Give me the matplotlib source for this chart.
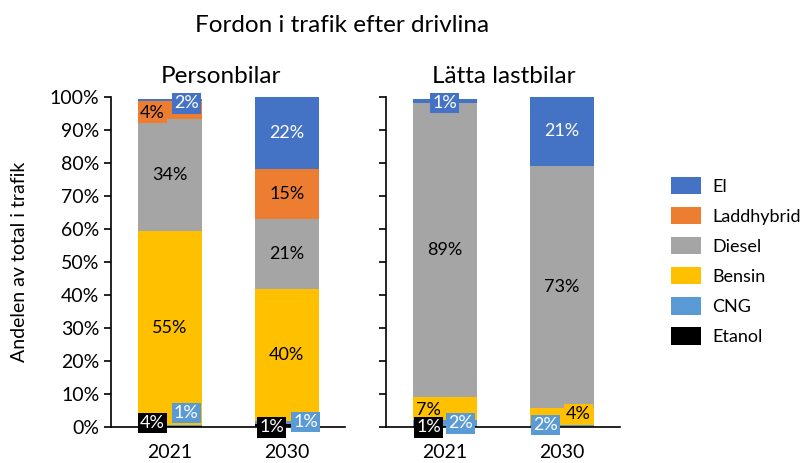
import numpy as np
import matplotlib.pyplot as plt

plt.rcParams['font.family'] = ['Lato', 'DejaVu Sans']

# stacking order, bottom to top
segments = ['Etanol', 'CNG', 'Bensin', 'Diesel', 'Laddhybrid', 'El']
colors = ['#000000', '#5B9BD5', '#FFC000', '#A5A5A5', '#ED7D31', '#4472C4']
years = ['2021', '2030']

# shares (%)
pb_2021 = [0.3, 0.5, 58.5, 34.0, 5.5, 0.5]
pb_2030 = [1.0, 1.0, 40.0, 21.0, 15.0, 22.0]
lb_2021 = [0.3, 1.8, 7.0, 89.0, 0.0, 1.2]
lb_2030 = [0.1, 0.6, 5.3, 73.0, 0.0, 21.0]

# data labels as printed in the chart: (segment, text, x offset, y or None=centre, boxed)
pb_2021_lbl = [(4, '4%', -0.15, 95.0, True), (5, '2%', 0.14, 98.0, True),
               (3, '34%', 0, None, False), (2, '55%', 0, None, False),
               (0, '4%', -0.15, 1.4, True), (1, '1%', 0.14, 4.3, True)]
pb_2030_lbl = [(5, '22%', 0, None, False), (4, '15%', 0, None, False),
               (3, '21%', 0, None, False), (2, '40%', 0, None, False),
               (0, '1%', -0.13, 0.0, True), (1, '1%', 0.16, 1.7, True)]
lb_2021_lbl = [(5, '1%', 0, 98.2, True), (3, '89%', 0, None, False),
               (2, '7%', -0.14, 5.2, False),
               (0, '1%', -0.14, 0.0, True), (1, '2%', 0.13, 1.2, True)]
lb_2030_lbl = [(5, '21%', 0, None, False), (3, '73%', 0, None, False),
               (1, '2%', -0.14, 0.7, True), (2, '4%', 0.14, 4.0, True)]

groups = [('Personbilar', [pb_2021, pb_2030], [pb_2021_lbl, pb_2030_lbl]),
          ('Lätta lastbilar', [lb_2021, lb_2030], [lb_2021_lbl, lb_2030_lbl])]

white_text = {'El', 'CNG', 'Etanol'}

fig = plt.figure(figsize=(8, 4.63), dpi=100)
fig.text(0.428, 0.945, 'Fordon i trafik efter drivlina', ha='center', va='center', fontsize=17.5)

ax_pos = [[0.139, 0.077, 0.2925, 0.714], [0.483, 0.077, 0.2925, 0.714]]
x = np.arange(len(years))
w = 0.55

for gi, (title, data, lbls) in enumerate(groups):
    ax = fig.add_axes(ax_pos[gi])
    vals = np.array(data)  # (years, segments)
    bottoms = np.zeros(len(years))
    for si, seg in enumerate(segments):
        ax.bar(x, vals[:, si], w, bottom=bottoms, color=colors[si],
               label=seg, zorder=2)
        bottoms += vals[:, si]
    cum = np.cumsum(vals, axis=1)
    for yi in range(len(years)):
        for si, txt, dx, yv, boxed in lbls[yi]:
            if yv is None:
                yv = cum[yi, si] - vals[yi, si] / 2
            tc = 'white' if segments[si] in white_text else 'black'
            bb = dict(facecolor=colors[si], edgecolor='none', pad=1.5) if boxed else None
            ax.text(x[yi] + dx, yv, txt, ha='center', va='center', fontsize=13,
                    color=tc, bbox=bb, zorder=5)
    ax.set_xlim(-0.5, 1.5)
    ax.set_ylim(0, 100)
    ax.set_xticks(x)
    ax.set_xticklabels(years, fontsize=14)
    ax.set_yticks(np.arange(0, 101, 10))
    ax.tick_params(axis='x', length=0, pad=12)
    ax.tick_params(axis='y', direction='out', length=5, width=1.2)
    if gi == 0:
        ax.set_yticklabels([f'{v}%' for v in range(0, 101, 10)], fontsize=14)
        ax.set_ylabel('Andelen av total i trafik', fontsize=14, labelpad=16)
        ax.set_title(title, fontsize=17.5, pad=10, x=0.47)
    else:
        ax.set_yticklabels([])
        ax.set_title(title, fontsize=17.5, pad=10)
    for s in ['top', 'right']:
        ax.spines[s].set_visible(False)
    ax.spines['left'].set_linewidth(1.2)
    ax.spines['bottom'].set_linewidth(1.2)

handles, labels = ax.get_legend_handles_labels()
fig.legend(handles[::-1], labels[::-1], loc='upper left', bbox_to_anchor=(0.839, 0.618),
           frameon=False, fontsize=13, handlelength=1.66, handleheight=1.1,
           labelspacing=0.68, handletextpad=0.6, borderpad=0, borderaxespad=0)

fig.savefig('out.png', dpi=100)
